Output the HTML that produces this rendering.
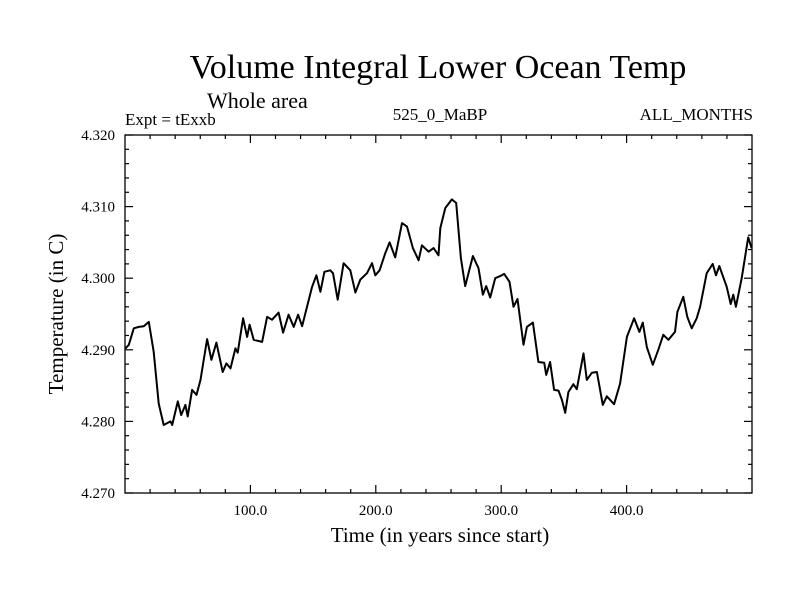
<!DOCTYPE html>
<html><head><meta charset="utf-8"><style>
body{margin:0;background:#fff;}
svg text{font-family:"Liberation Serif",serif;fill:#000;}
</style></head><body>
<svg id="chart" width="800" height="600" viewBox="0 0 800 600" xmlns="http://www.w3.org/2000/svg">
<rect width="800" height="600" fill="#fff"/>
<text x="438" y="78" font-size="34" text-anchor="middle">Volume Integral Lower Ocean Temp</text>
<text x="207" y="108" font-size="22">Whole area</text>
<text x="125" y="125" font-size="17">Expt = tExxb</text>
<text x="440" y="120" font-size="17" text-anchor="middle">525_0_MaBP</text>
<text x="753" y="120" font-size="17" text-anchor="end">ALL_MONTHS</text>
<text transform="translate(63,314) rotate(-90)" font-size="21" text-anchor="middle">Temperature (in C)</text>
<text x="440" y="542" font-size="21" text-anchor="middle">Time (in years since start)</text>
<g id="axes"></g>
<g id="series"></g>
<rect x="125" y="135" width="627" height="358" fill="none" stroke="#000" stroke-width="1.3"/>
</svg>
<script>
const years=[0.4,3.0,7.0,11.0,15.0,19.0,22.9,26.9,30.9,36.3,37.6,42.1,44.8,48.2,50.0,53.5,57.0,60.2,65.5,68.9,72.9,77.9,80.9,84.1,88.0,89.9,94.2,97.4,99.4,102.6,109.3,113.3,117.3,122.5,126.1,130.5,134.5,138.0,141.2,149.2,152.6,155.8,159.0,163.7,165.9,169.6,174.3,179.7,183.7,187.6,193.0,197.0,199.6,203.0,207.6,211.0,215.5,220.9,224.9,229.6,234.1,236.8,242.1,246.1,250.0,251.4,255.4,260.7,264.1,267.9,271.3,277.4,281.9,285.4,288.0,291.2,295.2,299.2,302.4,306.6,309.8,313.0,317.8,320.5,325.3,329.7,334.3,335.9,339.0,342.2,345.7,348.4,351.0,353.6,357.6,360.3,365.6,368.3,372.3,376.3,381.0,384.2,390.0,394.8,400.2,406.0,410.2,412.9,416.1,420.9,425.3,429.3,433.3,438.6,440.5,445.2,448.4,451.9,455.9,458.6,463.9,468.7,471.3,473.9,479.8,483.0,485.1,487.2,491.8,497.0,499.7];
const temps=[4.2902,4.2907,4.2930,4.2932,4.2933,4.2939,4.2897,4.2825,4.2795,4.2800,4.2795,4.2828,4.2809,4.2823,4.2807,4.2844,4.2837,4.2858,4.2915,4.2886,4.2910,4.2869,4.2881,4.2874,4.2902,4.2896,4.2944,4.2918,4.2935,4.2914,4.2911,4.2946,4.2942,4.2952,4.2924,4.2949,4.2932,4.2949,4.2933,4.2988,4.3004,4.2981,4.3009,4.3011,4.3007,4.2970,4.3021,4.3011,4.2980,4.2998,4.3007,4.3021,4.3004,4.3011,4.3035,4.3050,4.3029,4.3077,4.3072,4.3042,4.3025,4.3046,4.3037,4.3042,4.3032,4.3070,4.3098,4.3110,4.3105,4.3028,4.2989,4.3031,4.3014,4.2977,4.2989,4.2973,4.3000,4.3003,4.3006,4.2995,4.2960,4.2971,4.2907,4.2932,4.2938,4.2883,4.2882,4.2865,4.2883,4.2844,4.2843,4.2830,4.2812,4.2841,4.2852,4.2845,4.2895,4.2858,4.2868,4.2869,4.2823,4.2835,4.2824,4.2853,4.2918,4.2944,4.2925,4.2938,4.2904,4.2879,4.2900,4.2921,4.2914,4.2925,4.2953,4.2974,4.2946,4.2930,4.2944,4.2960,4.3007,4.3020,4.3004,4.3017,4.2988,4.2964,4.2977,4.2960,4.3000,4.3057,4.3042];
const xTicks=[100,200,300,400];
const xTickLabels=["100.0","200.0","300.0","400.0"];
const yTicks=[4.27,4.28,4.29,4.30,4.31,4.32];
const yTickLabels=["4.270","4.280","4.290","4.300","4.310","4.320"];
const X0=125,X1=752,Y0=493,Y1=135,xMin=0,xMax=500,yMin=4.27,yMax=4.32;
function sx(v){return X0+(v-xMin)/(xMax-xMin)*(X1-X0);}
function sy(v){return Y0-(v-yMin)/(yMax-yMin)*(Y0-Y1);}
const NS="http://www.w3.org/2000/svg";
const axes=document.getElementById('axes');
function line(x1,y1,x2,y2,name){
  const l=document.createElementNS(NS,'line');
  l.setAttribute('x1',x1);l.setAttribute('y1',y1);l.setAttribute('x2',x2);l.setAttribute('y2',y2);
  l.setAttribute('stroke','#000');l.setAttribute('stroke-width','1.2');
  
  
  axes.appendChild(l);
}
function text(x,y,s,anchor,name){
  const t=document.createElementNS(NS,'text');
  t.setAttribute('x',x);t.setAttribute('y',y);t.setAttribute('font-size','15');t.setAttribute('text-anchor',anchor);
  t.textContent=s;
  
  
  axes.appendChild(t);
}
for(let v=yMin;v<=yMax+1e-9;v+=0.002){
  const y=sy(v);const major=Math.abs(Math.round(v*100)-v*100)<1e-6;const L=major?8:4;
  line(X0,y,X0+L,y,'y-tick');line(X1-L,y,X1,y,'y-tick-right');
}
for(let v=20;v<xMax;v+=20){
  const x=sx(v);const major=v%100===0;const L=major?8:4;
  line(x,Y0,x,Y0-L,'x-tick');line(x,Y1,x,Y1+L,'x-tick-top');
}
yTicks.forEach((v,i)=>text(X0-10,sy(v)+5,yTickLabels[i],'end','y-tick-label'));
xTicks.forEach((v,i)=>text(sx(v),Y0+22,xTickLabels[i],'middle','x-tick-label'));
const p=document.createElementNS(NS,'path');
p.setAttribute('d',years.map((y,i)=>(i?'L':'M')+sx(y).toFixed(1)+','+sy(temps[i]).toFixed(1)).join(''));
p.setAttribute('fill','none');p.setAttribute('stroke','#000');p.setAttribute('stroke-width','2');p.setAttribute('stroke-linejoin','round');


document.getElementById('series').appendChild(p);
</script>
</body></html>
